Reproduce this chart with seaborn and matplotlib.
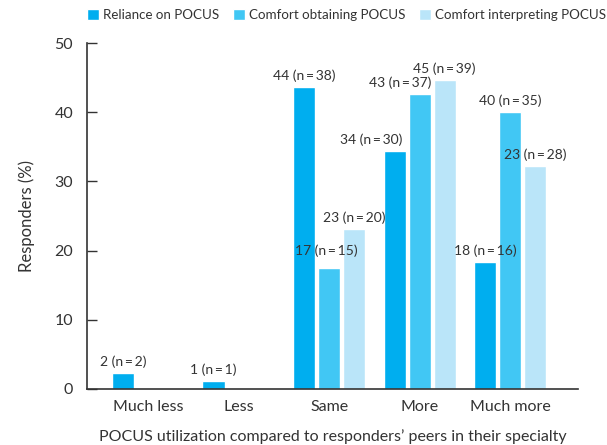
import matplotlib
matplotlib.use("Agg")
import matplotlib.pyplot as plt
import seaborn as sns
import pandas as pd

# Data
categories = ["Much less", "Less", "Same", "More", "Much more"]
series_names = ["Reliance on POCUS", "Comfort obtaining POCUS", "Comfort interpreting POCUS"]
reliance = [2.3, 1.2, 43.6, 34.4, 18.3]
obtaining = [0, 0, 17.5, 42.6, 40.1]
interpreting = [0, 0, 23.1, 44.7, 32.2]

reliance_labels = ["2 (n\u2009=\u20092)", "1 (n\u2009=\u20091)", "44 (n\u2009=\u200938)", "34 (n\u2009=\u200930)", "18 (n\u2009=\u200916)"]
obtaining_labels = ["", "", "17 (n\u2009=\u200915)", "43 (n\u2009=\u200937)", "40 (n\u2009=\u200935)"]
interpreting_labels = ["", "", "23 (n\u2009=\u200920)", "45 (n\u2009=\u200939)", "23 (n\u2009=\u200928)"]

colors = ["#00aeef", "#41c7f4", "#bae5f9"]
text_color = "#333333"

df = pd.DataFrame({
    "category": categories * 3,
    "series": [s for s in series_names for _ in categories],
    "value": reliance + obtaining + interpreting,
})
label_sets = [reliance_labels, obtaining_labels, interpreting_labels]

sns.set_style("white")
plt.rcParams["font.family"] = ["Lato", "DejaVu Sans"]
plt.rcParams["text.color"] = text_color
plt.rcParams["axes.labelcolor"] = text_color
plt.rcParams["xtick.color"] = text_color
plt.rcParams["ytick.color"] = text_color

fig = plt.figure(figsize=(6.07, 4.45), dpi=100)
ax = fig.add_axes([0.1433, 0.126, 0.809, 0.777])

sns.barplot(data=df, x="category", y="value", hue="series", order=categories,
            hue_order=series_names, palette=colors, width=0.83, gap=0.12,
            saturation=1, ax=ax, legend=True)

# value labels above bars; a few are nudged like in the source figure (pixels)
nudge = {(0, 3): (-23, 0), (1, 3): (-19, 0), (1, 2): (-3, 6)}
for i, (container, labels) in enumerate(zip(ax.containers, label_sets)):
    for j, (bar, lab) in enumerate(zip(container, labels)):
        if not lab:
            continue
        dx, dy = nudge.get((i, j), (0, 0))
        x = bar.get_x() + bar.get_width() / 2
        ax.annotate(lab, (x, bar.get_height()), xytext=(dx, 5 + dy),
                    textcoords="offset pixels", ha="center", va="bottom",
                    fontsize=10, color=text_color)

ax.set_xlim(-0.674, 4.75)
ax.set_ylim(0, 50)
ax.set_yticks([0, 10, 20, 30, 40, 50])
ax.set_xticks(range(len(categories)))
ax.set_xticklabels(categories)
ax.set_xticks([0.5, 1.5, 2.5, 3.5, 4.75], minor=True)
ax.tick_params(axis="x", which="major", length=0, labelsize=11.5, pad=8)
ax.tick_params(axis="x", which="minor", direction="in", length=6, width=1, color=text_color)
ax.tick_params(axis="y", direction="in", length=7, width=1, labelsize=11.5, pad=10, left=True)

for side in ["top", "right"]:
    ax.spines[side].set_visible(False)
for side in ["left", "bottom"]:
    ax.spines[side].set_color(text_color)
    ax.spines[side].set_linewidth(1.2)

ax.set_ylabel("Responders (%)", fontsize=12, labelpad=14)
ax.set_xlabel("POCUS utilization compared to responders\u2019 peers in their specialty",
              fontsize=11.5, labelpad=11)

handles, labels = ax.get_legend_handles_labels()
ax.get_legend().remove()
fig.legend(handles, labels, loc="center right", bbox_to_anchor=(0.998, 0.966), ncol=3,
           frameon=False, fontsize=9.6, handlelength=0.9, handleheight=0.9,
           handletextpad=0.3, columnspacing=1.0, borderpad=0, borderaxespad=0)

fig.savefig("out.png", dpi=100)
